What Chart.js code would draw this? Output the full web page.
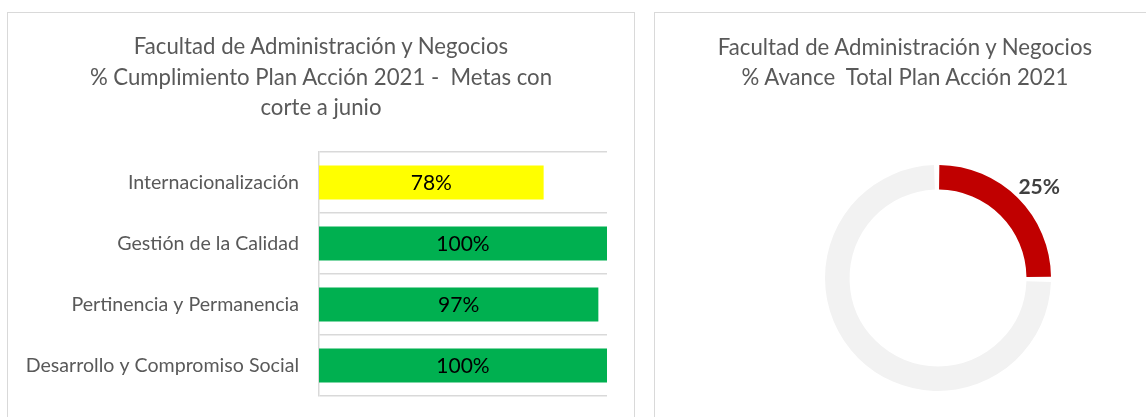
<!DOCTYPE html>
<html>
<head>
<meta charset="utf-8">
<script src="https://cdn.jsdelivr.net/npm/chart.js@4.4.1/dist/chart.umd.min.js"></script>
<style>
  body { margin: 0; background: #fff; width: 1146px; height: 417px; overflow: hidden; position: relative; font-family: Lato, sans-serif; }
  .panel { position: absolute; top: 12px; height: 430px; border: 1px solid #d9d9d9; background: #fff; }
  #left { left: 7px; width: 626px; }
  #right { left: 654px; width: 500px; }
  .title { position: absolute; left: 0; width: 100%; text-align: center; color: #595959; font-size: 22.2px; line-height: 30.5px; }
  canvas { position: absolute; left: 0; top: 0; }
</style>
</head>
<body>
<div class="panel" id="left">
  <canvas id="barChart" width="626" height="420"></canvas>
  <div class="title" style="top:18px">Facultad de Administración y Negocios<br>% Cumplimiento Plan Acción 2021 -&nbsp; Metas con<br>corte a junio</div>
</div>
<div class="panel" id="right">
  <canvas id="donutChart" width="500" height="420"></canvas>
  <div class="title" style="top:19px;line-height:29.5px">Facultad de Administración y Negocios<br>% Avance&nbsp; Total Plan Acción 2021</div>
</div>
<script>
const categories = ['Internacionalización', 'Gestión de la Calidad', 'Pertinencia y Permanencia', 'Desarrollo y Compromiso Social'];
const cumplimiento = [78, 100, 97, 100];
const barColors = ['#FFFF00', '#00B050', '#00B050', '#00B050'];

const avanceLabels = ['Avance', 'Pendiente'];
const avance = [25, 75];
const donutColors = ['#C00000', '#F2F2F2'];

// labels inside the bars
const barLabels = {
  id: 'barLabels',
  afterDatasetsDraw(chart) {
    const ctx = chart.ctx;
    const meta = chart.getDatasetMeta(0);
    ctx.save();
    ctx.font = '21px Lato';
    ctx.fillStyle = '#000';
    ctx.textAlign = 'center';
    ctx.textBaseline = 'middle';
    meta.data.forEach(function (bar, i) {
      const x = (bar.base + bar.x) / 2;
      ctx.fillText(cumplimiento[i] + '%', x, bar.y + 1);
    });
    ctx.restore();
  }
};

// label outside the red slice
const arcLabel = {
  id: 'arcLabel',
  afterDatasetsDraw(chart) {
    const ctx = chart.ctx;
    const arc = chart.getDatasetMeta(0).data[0];
    const mid = (arc.startAngle + arc.endAngle) / 2;
    const r = arc.outerRadius + 26;
    ctx.save();
    ctx.font = 'bold 21px Lato';
    ctx.fillStyle = '#404040';
    ctx.textAlign = 'center';
    ctx.textBaseline = 'middle';
    ctx.fillText(avance[0] + '%', arc.x + Math.cos(mid) * r + 4, arc.y + Math.sin(mid) * r + 6);
    ctx.restore();
  }
};

new Chart(document.getElementById('barChart').getContext('2d'), {
  type: 'bar',
  data: {
    labels: categories,
    datasets: [{
      data: cumplimiento,
      backgroundColor: barColors,
      categoryPercentage: 1,
      barPercentage: 0.56
    }]
  },
  options: {
    indexAxis: 'y',
    responsive: false,
    animation: false,
    events: [],
    layout: { padding: { left: 0, right: 27, top: 139, bottom: 37 } },
    plugins: { legend: { display: false }, tooltip: { enabled: false } },
    scales: {
      x: { display: false, min: 0, max: 100 },
      y: {
        afterFit: function (scale) { scale.width = 311; },
        grid: { color: '#d9d9d9', lineWidth: 1.5, drawTicks: false },
        border: { color: '#d9d9d9', width: 1.5 },
        ticks: { color: '#595959', font: { family: 'Lato', size: 19.6 }, padding: 20 }
      }
    }
  },
  plugins: [barLabels]
});

new Chart(document.getElementById('donutChart').getContext('2d'), {
  type: 'doughnut',
  data: {
    labels: avanceLabels,
    datasets: [{
      data: avance,
      backgroundColor: donutColors,
      borderWidth: 0
    }]
  },
  options: {
    responsive: false,
    animation: false,
    events: [],
    cutout: '78%',
    spacing: 3,
    layout: { padding: { left: 170, right: 104, top: 152, bottom: 42 } },
    plugins: { legend: { display: false }, tooltip: { enabled: false } }
  },
  plugins: [arcLabel]
});
</script>
</body>
</html>
